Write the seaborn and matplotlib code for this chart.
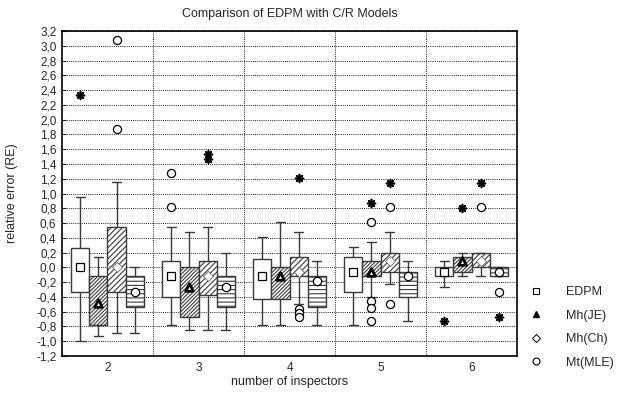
import numpy as np
import pandas as pd
import matplotlib
matplotlib.use("Agg")
import matplotlib.pyplot as plt
from matplotlib.lines import Line2D
from matplotlib.ticker import FuncFormatter, MultipleLocator
import seaborn as sns

# ---------------- data ----------------
groups = ["2", "3", "4", "5", "6"]
models = ["EDPM", "Mh(JE)", "Mh(Ch)", "Mt(MLE)"]

# five-number summaries per model: whisker low, q1, median, q3, whisker high
edpm_lo  = [-1.00, -0.78, -0.78, -0.78, -0.26]
edpm_q1  = [-0.33, -0.40, -0.43, -0.33, -0.12]
edpm_med = [ 0.00, -0.12, -0.12, -0.06, -0.06]
edpm_q3  = [ 0.26,  0.08,  0.11,  0.14,  0.00]
edpm_hi  = [ 0.95,  0.55,  0.41,  0.27,  0.08]

je_lo  = [-0.93, -0.85, -0.78, -0.40, -0.12]
je_q1  = [-0.78, -0.67, -0.43, -0.12, -0.06]
je_med = [-0.48, -0.26, -0.12, -0.06,  0.08]
je_q3  = [-0.12,  0.00,  0.00,  0.08,  0.14]
je_hi  = [ 0.14,  0.48,  0.61,  0.34,  0.20]

ch_lo  = [-0.89, -0.85, -0.50, -0.22, -0.12]
ch_q1  = [-0.33, -0.37, -0.12, -0.06,  0.00]
ch_med = [ 0.00, -0.12, -0.06,  0.08,  0.08]
ch_q3  = [ 0.55,  0.08,  0.14,  0.20,  0.20]
ch_hi  = [ 1.15,  0.55,  0.48,  0.48,  0.20]

mle_lo  = [-0.89, -0.85, -0.78, -0.73, -0.12]
mle_q1  = [-0.53, -0.53, -0.53, -0.40, -0.12]
mle_med = [-0.33, -0.26, -0.19, -0.12, -0.06]
mle_q3  = [-0.12, -0.12, -0.12, -0.06,  0.00]
mle_hi  = [ 0.00,  0.20,  0.08,  0.08,  0.00]

# outliers (open circles) and extremes (asterisks)
out_group = ["2", "2", "3", "3", "4", "4", "4", "5", "5", "5", "5", "5", "5", "6", "6"]
out_model = ["Mh(Ch)", "Mh(Ch)", "EDPM", "EDPM", "Mh(Ch)", "Mh(Ch)", "Mh(Ch)",
             "Mh(JE)", "Mh(JE)", "Mh(JE)", "Mh(JE)", "Mh(Ch)", "Mh(Ch)", "Mh(Ch)", "Mt(MLE)"]
out_value = [3.08, 1.88, 1.28, 0.82, -0.57, -0.62, -0.67,
             0.61, -0.46, -0.55, -0.72, 0.82, -0.49, 0.82, -0.33]

ext_group = ["2", "3", "3", "4", "5", "5", "6", "6", "6", "6"]
ext_model = ["EDPM", "Mh(Ch)", "Mh(Ch)", "Mh(Ch)", "Mh(JE)", "Mh(Ch)",
             "EDPM", "Mh(JE)", "Mh(Ch)", "Mt(MLE)"]
ext_value = [2.33, 1.53, 1.47, 1.21, 0.87, 1.14, -0.72, 0.80, 1.14, -0.67]

summ = {
    "EDPM": (edpm_lo, edpm_q1, edpm_med, edpm_q3, edpm_hi),
    "Mh(JE)": (je_lo, je_q1, je_med, je_q3, je_hi),
    "Mh(Ch)": (ch_lo, ch_q1, ch_med, ch_q3, ch_hi),
    "Mt(MLE)": (mle_lo, mle_q1, mle_med, mle_q3, mle_hi),
}

# long table: five values per box reproduce exactly the summary with whis=(0,100)
rows = []
for m in models:
    for gi, g in enumerate(groups):
        for arr in summ[m]:
            rows.append({"group": g, "model": m, "value": arr[gi]})
df = pd.DataFrame(rows)

# ---------------- style ----------------
sns.set_style("white")
plt.rcParams["font.family"] = ["Liberation Sans", "DejaVu Sans"]
plt.rcParams["hatch.linewidth"] = 0.8

fig = plt.figure(figsize=(6.23, 4.0), dpi=100)
ax = fig.add_axes([0.0995, 0.11, 0.7305, 0.8125])

edge = "#3a3a3a"
sns.boxplot(data=df, x="group", y="value", hue="model", order=groups, hue_order=models,
            whis=(0, 100), width=0.8, gap=0, showfliers=False,
            palette={m: "white" for m in models}, linecolor=edge, linewidth=1.0,
            medianprops={"visible": False}, legend=False, ax=ax, zorder=3)

hatches = {"EDPM": "", "Mh(JE)": "/////////", "Mh(Ch)": "//////", "Mt(MLE)": "----"}
for cont, m in zip(ax.containers, models):
    for box in cont.boxes:
        box.set_hatch(hatches[m])
        box.set_edgecolor(edge)
        box.set_facecolor("white")

# x positions of dodged boxes
nh = len(models)
offs = {m: (i - (nh - 1) / 2) * 0.8 / nh for i, m in enumerate(models)}
gidx = {g: i for i, g in enumerate(groups)}

# median markers
mk = {"EDPM": ("s", "white", "black", 30, 0.9),
      "Mh(JE)": ("^", "white", "black", 30, 2.0),
      "Mh(Ch)": ("D", "white", "#666666", 26, 0.6),
      "Mt(MLE)": ("o", "white", "black", 36, 0.9)}
for m in models:
    med = summ[m][2]
    mdf = pd.DataFrame({"x": [gidx[g] + offs[m] for g in groups], "y": med})
    marker, fc, ec, s, lw = mk[m]
    sns.scatterplot(data=mdf, x="x", y="y", marker=marker, color=fc, edgecolor=ec,
                    s=s, linewidth=lw, ax=ax, zorder=5, legend=False)

# outliers
odf = pd.DataFrame({"x": [gidx[g] + offs[m] for g, m in zip(out_group, out_model)],
                    "y": out_value})
sns.scatterplot(data=odf, x="x", y="y", marker="o", color="white", edgecolor="black",
                s=34, linewidth=0.9, ax=ax, zorder=5, legend=False)
edf = pd.DataFrame({"x": [gidx[g] + offs[m] for g, m in zip(ext_group, ext_model)],
                    "y": ext_value})
sns.scatterplot(data=edf, x="x", y="y", marker=(8, 2, 0), color="black", edgecolor="black",
                s=32, linewidth=1.2, ax=ax, zorder=5, legend=False)

# ---------------- axes ----------------
ax.set_xlim(-0.5, len(groups) - 0.5)
ax.set_ylim(-1.2, 3.2)
ax.yaxis.set_major_locator(MultipleLocator(0.2))
ax.yaxis.set_major_formatter(FuncFormatter(lambda v, p: f"{round(v, 1) + 0.0:.1f}".replace(".", ",")))
ax.set_xticks(range(len(groups)))
ax.set_xticklabels(groups)
ax.set_xticks(np.arange(0.5, len(groups) - 0.5, 1.0), minor=True)
ax.tick_params(axis="x", which="both", length=0, labelsize=8.5, pad=4)
ax.tick_params(axis="y", which="major", length=3, direction="in", labelsize=8.5, pad=4, left=True)
ax.grid(False)
ax.yaxis.grid(True, which="major", color="#222222", linestyle=(0, (1, 1.2)), linewidth=0.7, zorder=0)
ax.xaxis.grid(True, which="minor", color="#222222", linestyle=(0, (1, 1.2)), linewidth=0.7, zorder=0)
ax.set_axisbelow(True)
for sp in ax.spines.values():
    sp.set_visible(True)
    sp.set_color("black")
    sp.set_linewidth(1.2)

ax.set_xlabel("number of inspectors", fontsize=9, labelpad=2)
ax.set_ylabel("relative error (RE)", fontsize=9, labelpad=13)
ax.set_title("Comparison of EDPM with C/R Models", fontsize=9, pad=10)

handles = [Line2D([], [], linestyle="none", marker="s", markersize=5, markerfacecolor="white", markeredgecolor="black", markeredgewidth=0.8),
           Line2D([], [], linestyle="none", marker="^", markersize=5, markerfacecolor="black", markeredgecolor="black"),
           Line2D([], [], linestyle="none", marker="D", markersize=4, markerfacecolor="white", markeredgecolor="black", markeredgewidth=0.7),
           Line2D([], [], linestyle="none", marker="o", markersize=5, markerfacecolor="white", markeredgecolor="black", markeredgewidth=0.8)]
fig.legend(handles, models, loc="lower left", bbox_to_anchor=(0.828, 0.05), frameon=False,
           fontsize=9, labelspacing=0.92, handletextpad=1.6, handlelength=1.5)

fig.savefig("out.png", dpi=100)
